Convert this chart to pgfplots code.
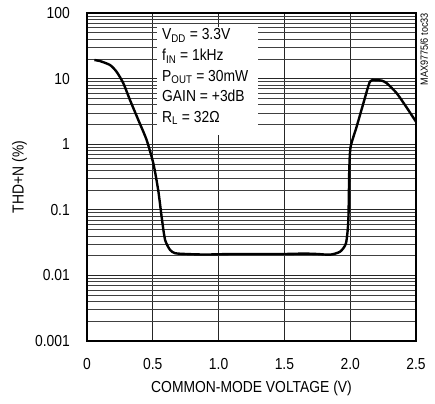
\documentclass[border=0pt]{standalone}
\usepackage{fontspec}
\setmainfont[FakeStretch=0.87]{Liberation Sans}
\usepackage{pgfplots}
\pgfplotsset{compat=1.18}

\begin{document}
\fontsize{16}{19}\selectfont
\begin{tikzpicture}
\begin{axis}[
    scale only axis,
    width=329bp,
    height=328bp,
    ymode=log,
    xmin=0, xmax=2.5,
    ymin=0.001, ymax=100,
    xtick={0,0.5,1,1.5,2,2.5},
    xticklabels={0,0.5,1.0,1.5,2.0,2.5},
    ytick={0.001,0.01,0.1,1,10,100},
    yticklabels={0.001,0.01,0.1,1,10,100},
    minor xtick={},
    minor ytick={0.002,0.003,0.004,0.005,0.006,0.007,0.008,0.009,
                 0.02,0.03,0.04,0.05,0.06,0.07,0.08,0.09,
                 0.2,0.3,0.4,0.5,0.6,0.7,0.8,0.9,
                 2,3,4,5,6,7,8,9,
                 20,30,40,50,60,70,80,90},
    major tick length=0pt,
    minor tick length=0pt,
    grid=both,
    major grid style={black!85, line width=0.7bp},
    minor grid style={black!75, line width=0.7bp},
    axis line style={line width=2.5bp},
    /pgf/number format/assume math mode=true,
    yticklabel style={inner sep=0pt, xshift=-17bp},
    xticklabel style={inner sep=0pt, yshift=-17bp},
    xlabel={COMMON-MODE VOLTAGE (V)},
    xlabel style={at={(axis description cs:0.5,0)}, anchor=north, inner sep=0pt, yshift=-40bp},
    ylabel={THD+N (\%)},
    ylabel style={at={(axis description cs:-0.182,0.5)}, anchor=south, rotate=0, inner sep=0pt},
    clip=false,
]
\fill[white] (axis cs:0.532,61) rectangle (axis cs:1.30,1.38);
\node[anchor=north west, inner sep=0pt, align=left,
      font=\fontsize{16}{20.7}\selectfont]
  at ([xshift=5bp,yshift=-1.5bp]axis cs:0.532,61)
  {V\textsubscript{DD} = 3.3V\\
   f\textsubscript{IN} = 1kHz\\
   P\textsubscript{OUT} = 30mW\\
   GAIN = +3dB\\
   R\textsubscript{L} = 32Ω};
\addplot[black, line width=2.4bp, smooth, tension=0.4] coordinates {
    (0.056,19.2) (0.099,18.5) (0.175,16.1) (0.225,12.7) (0.276,8.5)
    (0.327,4.7) (0.39,2.34) (0.453,1.16) (0.504,0.51) (0.541,0.20)
    (0.567,0.0785) (0.593,0.035) (0.631,0.0245) (0.669,0.0218)
    (0.75,0.0212) (0.9,0.0208) (1.1,0.0212) (1.3,0.0212) (1.5,0.0212)
    (1.65,0.0215) (1.75,0.0212) (1.847,0.0207) (1.923,0.023)
    (1.968,0.031) (1.986,0.070) (1.993,0.41) (2.003,0.91)
    (2.049,1.85) (2.10,4.2) (2.15,9.0) (2.19,9.5) (2.24,9.3)
    (2.278,8.5) (2.353,6.0) (2.43,3.6) (2.5,2.2)
};
\end{axis}
\node[rotate=90, anchor=north east, inner sep=0pt,
      font=\fontsize{10.5}{12}\selectfont]
  at ([xshift=4bp]current axis.north east) {MAX9775/6 toc33};
\path (current axis.south west) ++(-87bp,-63bp) rectangle
      ([xshift=19bp,yshift=13bp]current axis.north east);
\end{tikzpicture}
\end{document}
